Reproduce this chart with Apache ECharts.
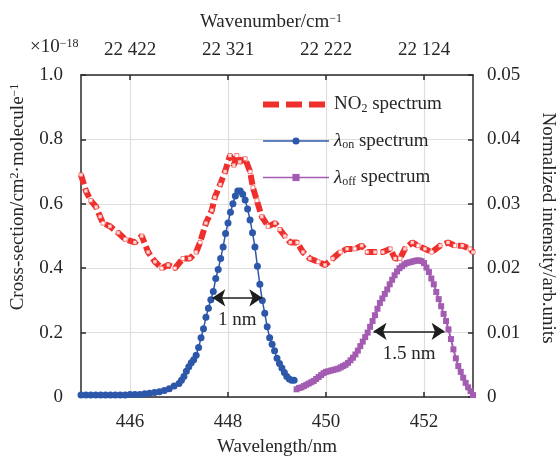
<!DOCTYPE html>
<html>
<head>
<meta charset="utf-8">
<script src="https://cdn.jsdelivr.net/npm/echarts@6/dist/echarts.min.js"></script>
<style>html,body{margin:0;padding:0;background:#fff;}#c{width:557px;height:456px;}</style>
</head>
<body>
<div id="c"></div>
<script>
// ---- data ----
const tickWavelengths = [446, 448, 450, 452];
const wavenumberLabels = ['22 422', '22 321', '22 222', '22 124'];
const leftTicks = ['0', '0.2', '0.4', '0.6', '0.8', '1.0'];

const no2Wavelength = [445.00,445.10,445.20,445.31,445.39,445.45,445.59,445.76,445.90,446.10,446.24,446.37,446.51,446.65,446.78,446.92,447.08,447.22,447.35,447.43,447.55,447.67,447.73,447.84,447.94,448.04,448.12,448.18,448.24,448.35,448.45,448.51,448.59,448.69,448.82,448.96,449.06,449.16,449.27,449.41,449.53,449.67,449.84,449.98,450.14,450.29,450.43,450.59,450.73,450.84,451.00,451.16,451.31,451.41,451.51,451.61,451.76,451.88,452.02,452.16,452.33,452.49,452.63,452.78,452.94,453.00];
const no2Cross = [0.69,0.64,0.61,0.59,0.56,0.54,0.53,0.51,0.49,0.48,0.50,0.45,0.42,0.40,0.41,0.40,0.43,0.43,0.45,0.48,0.54,0.58,0.62,0.66,0.70,0.75,0.72,0.75,0.73,0.74,0.70,0.65,0.61,0.56,0.53,0.54,0.52,0.50,0.48,0.48,0.45,0.43,0.42,0.41,0.43,0.45,0.46,0.46,0.47,0.45,0.45,0.45,0.46,0.43,0.43,0.46,0.48,0.47,0.46,0.45,0.47,0.48,0.47,0.47,0.46,0.45];

const onWavelength = [445.0,445.1,445.2,445.3,445.4,445.5,445.6,445.7,445.8,445.9,446.0,446.1,446.2,446.3,446.4,446.5,446.6,446.7,446.8,446.9,447.0,447.05,447.1,447.15,447.2,447.25,447.3,447.35,447.4,447.45,447.5,447.55,447.6,447.65,447.7,447.75,447.8,447.85,447.9,447.95,448.0,448.05,448.1,448.15,448.2,448.25,448.3,448.35,448.4,448.45,448.5,448.55,448.6,448.65,448.7,448.75,448.8,448.85,448.9,448.95,449.0,449.05,449.1,449.15,449.2,449.25,449.3,449.35];
const onIntensity = [0.0003,0.0003,0.0003,0.0003,0.0003,0.0003,0.0003,0.0003,0.0003,0.0003,0.0004,0.0004,0.0004,0.0005,0.0006,0.0007,0.0008,0.0010,0.0013,0.0017,0.0021,0.0026,0.0032,0.0040,0.0047,0.0053,0.0058,0.0065,0.0077,0.0092,0.0106,0.0124,0.0138,0.0151,0.0164,0.0184,0.0198,0.0215,0.0233,0.0254,0.0270,0.0287,0.0300,0.0312,0.0320,0.0320,0.0315,0.0306,0.0292,0.0275,0.0255,0.0233,0.0203,0.0175,0.0150,0.0130,0.0109,0.0092,0.0082,0.0072,0.0060,0.0052,0.0045,0.0038,0.0032,0.0028,0.0026,0.0026];

const offWavelength = [449.40,449.45,449.50,449.55,449.60,449.65,449.70,449.75,449.80,449.85,449.90,449.95,450.00,450.05,450.10,450.15,450.20,450.25,450.30,450.35,450.40,450.45,450.50,450.55,450.60,450.65,450.70,450.75,450.80,450.85,450.90,450.95,451.00,451.05,451.10,451.15,451.20,451.25,451.30,451.35,451.40,451.45,451.50,451.55,451.60,451.65,451.70,451.75,451.80,451.85,451.90,451.95,452.00,452.05,452.10,452.15,452.20,452.25,452.30,452.35,452.40,452.45,452.50,452.55,452.60,452.65,452.70,452.75,452.80,452.85,452.90,452.95,453.00];
const offIntensity = [0.0012,0.0014,0.0015,0.0017,0.0019,0.0021,0.0023,0.0025,0.0028,0.0031,0.0034,0.0037,0.0039,0.0040,0.0041,0.0042,0.0043,0.0044,0.0046,0.0048,0.0050,0.0053,0.0057,0.0061,0.0066,0.0072,0.0079,0.0086,0.0093,0.0100,0.0109,0.0118,0.0127,0.0137,0.0146,0.0153,0.0160,0.0167,0.0175,0.0182,0.0189,0.0195,0.0200,0.0203,0.0206,0.0208,0.0209,0.0210,0.0211,0.0212,0.0212,0.0211,0.0208,0.0201,0.0194,0.0184,0.0175,0.0163,0.0152,0.0141,0.0129,0.0118,0.0105,0.0090,0.0074,0.0060,0.0048,0.0039,0.0030,0.0022,0.0015,0.0009,0.0003];

const fwhmOn = [447.68, 448.70, 0.0154];
const fwhmOff = [450.97, 452.42, 0.0102];

// ---- chart ----
const FONT = '"Liberation Serif", "Times New Roman", serif';
const TXT = '#262626';
const FS = 19;
const RED = '#EE2F2C', BLUE = '#2D58AA', PURPLE = '#A35CB1';
const zip = (a, b) => a.map((v, i) => [v, b[i]]);

const xAxisBase = {
  type: 'value', min: 445, max: 453,
  axisLine: { show: true, onZero: false, lineStyle: { color: '#2a2a2a', width: 1.5 } },
  axisTick: { show: true, inside: true, length: 5, customValues: tickWavelengths, lineStyle: { color: '#2a2a2a', width: 1.5 } },
  splitLine: { show: true, lineStyle: { color: '#dedede', width: 1.2 } },
};

const chart = echarts.init(document.getElementById('c'), null, { renderer: 'canvas' });
chart.setOption({
  animation: false,
  backgroundColor: '#fff',
  grid: { left: 81, right: 84, top: 75, bottom: 59 },
  xAxis: [
    Object.assign({}, xAxisBase, {
      position: 'bottom',
      axisLabel: { customValues: tickWavelengths, margin: 16, fontFamily: FONT, fontSize: FS, color: TXT,
        formatter: v => String(Math.round(v)) }
    }),
    Object.assign({}, xAxisBase, {
      position: 'top',
      splitLine: { show: false },
      axisLabel: { customValues: tickWavelengths, margin: 15, fontFamily: FONT, fontSize: FS, color: TXT,
        formatter: v => { const i = tickWavelengths.indexOf(Math.round(v)); return i >= 0 ? wavenumberLabels[i] : ''; } }
    })
  ],
  yAxis: [
    {
      type: 'value', min: 0, max: 1, interval: 0.2, position: 'left',
      axisLine: { show: true, lineStyle: { color: '#2a2a2a', width: 1.5 } },
      axisTick: { show: true, inside: true, length: 5, lineStyle: { color: '#2a2a2a', width: 1.5 } },
      splitLine: { show: true, lineStyle: { color: '#dedede', width: 1.2 } },
      axisLabel: { margin: 18, fontFamily: FONT, fontSize: FS, color: TXT,
        formatter: v => leftTicks[Math.round(v / 0.2)] }
    },
    {
      type: 'value', min: 0, max: 0.05, interval: 0.01, position: 'right',
      axisLine: { show: true, lineStyle: { color: '#2a2a2a', width: 1.5 } },
      axisTick: { show: true, inside: true, length: 5, lineStyle: { color: '#2a2a2a', width: 1.5 } },
      splitLine: { show: false },
      axisLabel: { margin: 14, fontFamily: FONT, fontSize: FS, color: TXT,
        formatter: v => v === 0 ? '0' : v.toFixed(2) }
    }
  ],
  legend: {
    orient: 'vertical', left: 255, top: 90,
    itemWidth: 66, itemHeight: 9, itemGap: 17,
    data: [
      { name: 'NO2 spectrum', itemStyle: { opacity: 0 }, lineStyle: { width: 6, type: [16, 7], color: RED } },
      { name: 'on spectrum', lineStyle: { width: 1.5, color: BLUE } },
      { name: 'off spectrum', lineStyle: { width: 1.5, color: PURPLE } }
    ],
    formatter: n => n === 'NO2 spectrum' ? 'NO{sub|2} spectrum' : (n === 'on spectrum' ? '{i|λ}{sub|on} spectrum' : '{i|λ}{sub|off} spectrum'),
    textStyle: {
      fontFamily: FONT, fontSize: FS, color: TXT,
      rich: {
        sub: { fontFamily: FONT, fontSize: 12, color: TXT, verticalAlign: 'bottom', padding: [8, 0, 0, 0] },
        i: { fontFamily: FONT, fontSize: FS, fontStyle: 'italic', color: TXT }
      }
    }
  },
  series: [
    {
      name: 'NO2 spectrum', type: 'line', xAxisIndex: 0, yAxisIndex: 0,
      data: zip(no2Wavelength, no2Cross),
      symbol: 'none', smooth: false,
      lineStyle: { color: RED, width: 6, type: [10, 4] },
      itemStyle: { color: RED }, z: 2
    },
    {
      name: 'no2marks', type: 'scatter', xAxisIndex: 0, yAxisIndex: 0,
      data: zip(no2Wavelength, no2Cross),
      symbol: 'rect', symbolSize: 4,
      itemStyle: { color: '#fff', borderColor: RED, borderWidth: 0.8 }, z: 3, silent: true
    },
    {
      name: 'on spectrum', type: 'line', xAxisIndex: 0, yAxisIndex: 1,
      data: zip(onWavelength, onIntensity),
      symbol: 'circle', symbolSize: 7, showSymbol: true,
      lineStyle: { color: BLUE, width: 1.5 },
      itemStyle: { color: BLUE }, z: 4,
      markLine: {
        silent: true, animation: false,
        symbol: ['arrow', 'arrow'], symbolSize: 13,
        lineStyle: { color: '#1e1e1e', width: 1.5, type: 'solid' },
        label: { show: true, position: 'insideMiddleBottom', distance: 13, fontFamily: FONT, fontSize: FS, color: TXT },
        data: [
          [ { coord: [fwhmOn[0], fwhmOn[2]], label: { formatter: '1 nm' } }, { coord: [fwhmOn[1], fwhmOn[2]] } ],
          [ { coord: [fwhmOff[0], fwhmOff[2]], label: { formatter: '1.5 nm' } }, { coord: [fwhmOff[1], fwhmOff[2]] } ]
        ]
      }
    },
    {
      name: 'off spectrum', type: 'line', xAxisIndex: 0, yAxisIndex: 1,
      data: zip(offWavelength, offIntensity),
      symbol: 'rect', symbolSize: 6, showSymbol: true,
      lineStyle: { color: PURPLE, width: 2 },
      itemStyle: { color: PURPLE }, z: 4
    }
  ],
  graphic: [
    { type: 'text',
      style: { text: 'Wavenumber/cm{sup|−1}', x: 271, y: 22, textAlign: 'center', textVerticalAlign: 'middle', font: FS + 'px ' + FONT, fill: TXT,
        rich: { sup: { fontFamily: FONT, fontSize: 12, fill: TXT, verticalAlign: 'top' } } } },
    { type: 'text',
      style: { text: '×10{sup|−18}', x: 30, y: 47, textAlign: 'left', textVerticalAlign: 'middle', font: FS + 'px ' + FONT, fill: TXT,
        rich: { sup: { fontFamily: FONT, fontSize: 12, fill: TXT, verticalAlign: 'top' } } } },
    { type: 'text',
      style: { text: 'Wavelength/nm', x: 277, y: 447, textAlign: 'center', textVerticalAlign: 'middle', font: FS + 'px ' + FONT, fill: TXT } },
    { type: 'text', x: 18, y: 197, rotation: Math.PI / 2,
      style: { text: 'Cross-section/cm{sup|2}·molecule{sup|−1}', x: 0, y: 0, textAlign: 'center', textVerticalAlign: 'middle', font: FS + 'px ' + FONT, fill: TXT,
        rich: { sup: { fontFamily: FONT, fontSize: 12, fill: TXT, verticalAlign: 'top' } } } },
    { type: 'text', x: 548, y: 228, rotation: -Math.PI / 2,
      style: { text: 'Normalized intensity/arb.units', x: 0, y: 0, textAlign: 'center', textVerticalAlign: 'middle', font: FS + 'px ' + FONT, fill: TXT } }
  ]
});
</script>
</body>
</html>
